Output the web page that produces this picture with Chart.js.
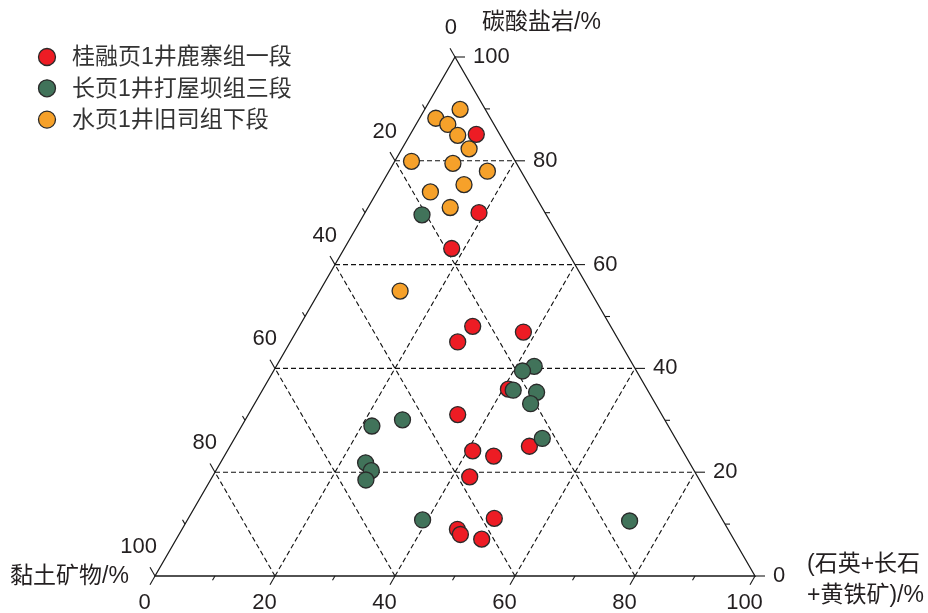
<!DOCTYPE html>
<html>
<head>
<meta charset="utf-8">
<script src="https://cdn.jsdelivr.net/npm/chart.js@4/dist/chart.umd.min.js"></script>
<style>
  html, body { margin: 0; padding: 0; background: #ffffff; }
  canvas { display: block; }
</style>
</head>
<body>
<canvas id="c" width="928" height="613"></canvas>
<script>
// Series names and fill colours
const seriesNames  = ['桂融页1井鹿寨组一段', '长页1井打屋坝组三段', '水页1井旧司组下段'];
const seriesColors = ['#ed1c24', '#41735a', '#f6a12a'];

// Composition of each sample, %: quartz+feldspar+pyrite, carbonate, clay
const quartzGR = [11.0, 19.0, 17.9, 28.9, 27.9, 37.9, 40.9, 34.9, 40.9, 44.9, 49.9, 42.9, 51.0, 45.9, 46.9, 50.9];
const carbGR   = [85.1, 70.0, 63.1, 48.1, 45.1, 47.0, 36.0, 31.1, 24.1, 23.1, 25.0, 19.1, 11.1,  9.0,  8.0,  7.1];
const clayGR   = [ 3.9, 11.0, 19.0, 23.0, 27.0, 15.1, 23.1, 34.0, 35.0, 32.0, 25.1, 38.0, 37.9, 45.1, 45.1, 42.0];

const quartzCY = [ 9.7, 43.0, 41.5, 41.8, 45.9, 46.0, 51.3, 26.2, 21.7, 24.2, 25.9, 25.9, 39.2, 73.8];
const carbCY   = [69.6, 40.4, 39.5, 35.8, 35.4, 33.2, 26.5, 30.1, 28.9, 21.8, 20.3, 18.5, 10.8, 10.6];
const clayCY   = [20.7, 16.6, 19.0, 22.4, 18.7, 20.8, 22.2, 43.7, 49.4, 54.0, 53.8, 55.6, 50.0, 15.6];

const quartzSY = [ 5.9,  2.7,  5.3,  8.0, 11.2,  2.8,  9.9, 16.4, 13.8,  8.9, 13.7, 13.4];
const carbSY   = [89.9, 88.2, 87.0, 84.9, 82.3, 79.9, 79.5, 78.0, 75.4, 74.0, 71.0, 54.9];
const claySY   = [ 4.2,  9.1,  7.7,  7.1,  6.5, 17.3, 10.6,  5.6, 10.8, 17.1, 15.3, 31.7];

// Axis ticks and grid
const majorTicks = [0, 20, 40, 60, 80, 100];
const minorTicks = [10, 30, 50, 70, 90];
const gridLevels = [20, 40, 60, 80];

const titleCarb   = '碳酸盐岩/%';
const titleClay   = '黏土矿物/%';
const titleQuartz = ['(石英+长石', '+黄铁矿)/%'];

const H = Math.sqrt(3) / 2;

// ternary (quartz, carbonate) -> cartesian plot coordinates
function tern(q, c) {
  return { x: q + c / 2, y: c * H };
}

function toPoints(qs, cs, ls) {
  return qs.map((q, i) => {
    const s = q + cs[i] + ls[i];
    const qn = q * 100 / s, cn = cs[i] * 100 / s;
    return tern(qn, cn);
  });
}

const INK = '#231f20';
const NUM_FONT = '22px "Liberation Sans", Arial, sans-serif';
const CJK_FONT = '23px "Liberation Sans", "Noto Sans CJK SC", sans-serif';

const ternaryFrame = {
  id: 'ternaryFrame',
  beforeDatasetsDraw(chart) {
    const ctx = chart.ctx;
    const xs = chart.scales.x, ys = chart.scales.y;
    const P = (q, c) => {
      const t = tern(q, c);
      return [xs.getPixelForValue(t.x), ys.getPixelForValue(t.y)];
    };
    const line = (a, b) => {
      ctx.beginPath();
      ctx.moveTo(a[0], a[1]);
      ctx.lineTo(b[0], b[1]);
      ctx.stroke();
    };

    ctx.save();

    // dashed grid
    ctx.strokeStyle = '#111111';
    ctx.lineWidth = 1.1;
    ctx.setLineDash([5, 3]);
    gridLevels.forEach(v => {
      line(P(0, v), P(100 - v, v));          // carbonate = v
      line(P(v, 0), P(v, 100 - v));          // quartz = v
      line(P(100 - v, 0), P(0, 100 - v));    // clay = v
    });
    ctx.setLineDash([]);

    // triangle outline
    ctx.strokeStyle = '#1a1a1a';
    ctx.lineWidth = 1.3;
    ctx.beginPath();
    const A = P(0, 0), B = P(100, 0), C = P(0, 100);
    ctx.moveTo(A[0], A[1]);
    ctx.lineTo(B[0], B[1]);
    ctx.lineTo(C[0], C[1]);
    ctx.closePath();
    ctx.stroke();

    // ticks
    ctx.lineWidth = 1.1;
    const tick = (p, dx, dy, len) => line(p, [p[0] + dx * len, p[1] + dy * len]);
    const drawTicks = (vals, len) => {
      vals.forEach(v => {
        tick(P(v, 0), -0.5, H, len);              // quartz (bottom)
        tick(P(100 - v, v), 1, 0, len);           // carbonate (right)
        tick(P(0, 100 - v), -0.5, -H, len);       // clay (left)
      });
    };
    drawTicks(majorTicks, 10);
    drawTicks(minorTicks, 5);

    // tick labels
    ctx.fillStyle = INK;
    ctx.font = NUM_FONT;
    ctx.textBaseline = 'middle';
    majorTicks.forEach(v => {
      let p = P(v, 0);
      ctx.textAlign = 'center';
      ctx.fillText(String(v), p[0] - 10.5, p[1] + 27);

      p = P(100 - v, v);
      ctx.textAlign = 'left';
      ctx.fillText(String(v), p[0] + 18, p[1]);

      p = P(0, 100 - v);
      ctx.textAlign = 'right';
      ctx.fillText(String(v), p[0] + 2, p[1] - 29);
    });

    // axis titles
    ctx.font = CJK_FONT;
    ctx.textAlign = 'left';
    ctx.fillText(titleCarb, 482, 23);
    ctx.fillText(titleClay, 10, 577);
    ctx.fillText(titleQuartz[0], 807, 565);
    ctx.fillText(titleQuartz[1], 807, 596);

    // legend
    seriesNames.forEach((name, i) => {
      const y = 57 + i * 31.3;
      ctx.beginPath();
      ctx.arc(47, y, 8.5, 0, Math.PI * 2);
      ctx.fillStyle = seriesColors[i];
      ctx.fill();
      ctx.strokeStyle = '#2a2a2a';
      ctx.lineWidth = 1.3;
      ctx.stroke();
      ctx.fillStyle = '#333333';
      ctx.textAlign = 'left';
      ctx.fillText(name, 72, y + 1);
    });

    ctx.restore();
  }
};

const pointStyle = (i) => ({
  label: seriesNames[i],
  backgroundColor: seriesColors[i],
  borderColor: '#2a2a2a',
  borderWidth: 1.3,
  pointRadius: 8,
  pointHoverRadius: 8,
  clip: false
});

new Chart(document.getElementById('c'), {
  type: 'scatter',
  data: {
    datasets: [
      Object.assign(pointStyle(0), { data: toPoints(quartzGR, carbGR, clayGR), order: 1 }),
      Object.assign(pointStyle(1), { data: toPoints(quartzCY, carbCY, clayCY), order: 0 }),
      Object.assign(pointStyle(2), { data: toPoints(quartzSY, carbSY, claySY), order: 2 })
    ]
  },
  options: {
    responsive: false,
    devicePixelRatio: 1,
    animation: false,
    layout: { padding: { left: 155, right: 173, top: 57, bottom: 37 } },
    scales: {
      x: { type: 'linear', min: 0, max: 100, display: false },
      y: { type: 'linear', min: 0, max: 100 * H, display: false }
    },
    plugins: {
      legend: { display: false },
      tooltip: { enabled: false }
    }
  },
  plugins: [ternaryFrame]
});
</script>
</body>
</html>
